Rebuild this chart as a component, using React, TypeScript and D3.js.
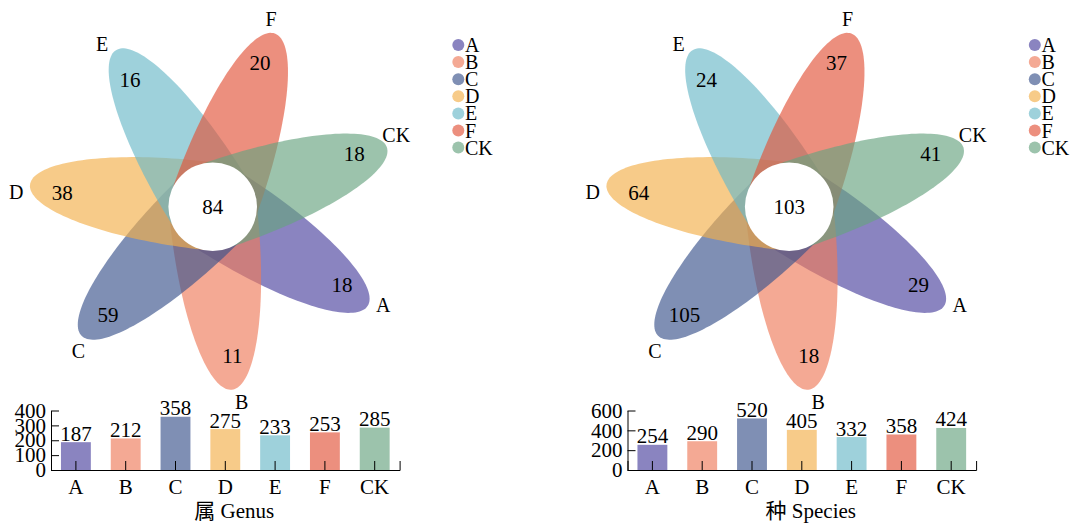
import * as d3 from "d3";
import { useEffect, useRef } from "react";

// groups, in legend / petal order
const categories = ["A", "B", "C", "D", "E", "F", "CK"];
const groupColors = ["#8a84c0", "#f4a994", "#7f8fb4", "#f7cb89", "#9ed1db", "#ec8f7e", "#9cc3ac"];

// genus level
const genusUnique = [18, 11, 59, 38, 16, 20, 18];
const genusCore = 84;
const genusTotals = [187, 212, 358, 275, 233, 253, 285];
const genusTicks = [0, 100, 200, 300, 400];

// species level
const speciesUnique = [29, 18, 105, 64, 24, 37, 41];
const speciesCore = 103;
const speciesTotals = [254, 290, 520, 405, 332, 358, 424];
const speciesTicks = [0, 200, 400, 600];

const FONT = "'Liberation Serif', 'Times New Roman', 'Noto Sans CJK SC', serif";
const ALPHA = 0.65;

// colour that gives `c` when painted with ALPHA over white
function baseColor(c: string) {
    const rgb = d3.rgb(c);
    const f = (v: number) => Math.max(0, Math.min(255, (v - 255 * (1 - ALPHA)) / ALPHA));
    return d3.rgb(f(rgb.r), f(rgb.g), f(rgb.b)).formatHex();
}

// egg shaped petal, pointing along +x, inner end hidden under the core circle
function petalPath() {
    const peak = 10, outer = 174, inner = 48, half = 44;
    const pts: [number, number][] = d3.range(0, 2 * Math.PI, Math.PI / 90).map(t => {
        const c = Math.cos(t);
        return [peak + (c >= 0 ? outer : inner) * c, half * Math.sin(t)];
    });
    return d3.line().curve(d3.curveLinearClosed)(pts)!;
}

function drawPanel(
    root: d3.Selection<SVGGElement, unknown, null, undefined>,
    unique: number[], core: number, totals: number[], ticks: number[], title: string
) {
    const fx = 212.7, fy = 206.7;
    const start = 32.6, step = 360 / categories.length;
    const rad = (a: number) => (a * Math.PI) / 180;
    const petal = petalPath();

    // petals
    const petals = root.append("g").attr("transform", `translate(${fx},${fy})`);
    categories.forEach((c, i) => {
        petals.append("path")
            .attr("d", petal)
            .attr("transform", `rotate(${start + step * i})`)
            .attr("fill", baseColor(groupColors[i]))
            .attr("fill-opacity", ALPHA);
    });

    root.append("circle")
        .attr("cx", fx).attr("cy", fy).attr("r", 44.3)
        .attr("fill", "white");

    const txt = root.append("g")
        .attr("font-family", FONT)
        .attr("font-size", 21)
        .attr("text-anchor", "middle");

    txt.append("text").attr("x", fx).attr("y", fy + 7).text(core);

    categories.forEach((c, i) => {
        const a = rad(start + step * i - 1.5);
        txt.append("text")
            .attr("x", fx + 151 * Math.cos(a))
            .attr("y", fy + 151 * Math.sin(a) + 7)
            .text(unique[i]);
        const b = rad(start + step * i - 2.5);
        txt.append("text")
            .attr("x", fx + 197 * Math.cos(b))
            .attr("y", fy + 197 * Math.sin(b) + 7)
            .attr("font-size", 20)
            .text(c);
    });

    // legend
    const legend = root.append("g").attr("font-family", FONT).attr("font-size", 20);
    categories.forEach((c, i) => {
        const ly = 45 + 17.1 * i;
        legend.append("circle")
            .attr("cx", 458.3).attr("cy", ly).attr("r", 6)
            .attr("fill", groupColors[i]);
        legend.append("text")
            .attr("x", 465).attr("y", ly + 7)
            .text(c);
    });

    // bar chart
    const x = d3.scaleBand()
        .domain(categories)
        .range([51, 399.6])
        .paddingInner(0.4)
        .paddingOuter(0.2);

    const y = d3.scaleLinear()
        .domain([0, d3.max(ticks)!])
        .range([470, 410.5]);

    root.append("g")
        .selectAll("rect")
        .data(totals)
        .enter()
        .append("rect")
        .attr("x", (d, i) => x(categories[i])!)
        .attr("y", d => y(d))
        .attr("width", x.bandwidth())
        .attr("height", d => y(0) - y(d))
        .attr("fill", (d, i) => groupColors[i]);

    root.append("g")
        .attr("font-family", FONT)
        .attr("font-size", 21)
        .attr("text-anchor", "middle")
        .selectAll("text")
        .data(totals)
        .enter()
        .append("text")
        .attr("x", (d, i) => x(categories[i])! + x.bandwidth() / 2)
        .attr("y", d => y(d) - 1.5)
        .text(d => d);

    root.append("g")
        .attr("transform", `translate(0,${y(0)})`)
        .call(d3.axisBottom(x).tickSizeInner(-9).tickSizeOuter(-9).tickPadding(9))
        .attr("font-family", FONT)
        .attr("font-size", 21);

    root.append("g")
        .attr("transform", `translate(51,0)`)
        .call(d3.axisLeft(y).tickValues(ticks).tickSizeInner(-8).tickSizeOuter(0).tickPadding(5))
        .attr("font-family", FONT)
        .attr("font-size", 21);

    root.append("text")
        .attr("x", (51 + 399.6) / 2 + 9)
        .attr("y", 518)
        .attr("text-anchor", "middle")
        .attr("font-family", FONT)
        .attr("font-size", 21)
        .text(title);
}

export default function App() {
    const ref = useRef<SVGSVGElement>(null);

    useEffect(() => {
        const svg = d3.select(ref.current);
        svg.selectAll("*").remove();

        const left = svg.append("g");
        drawPanel(left, genusUnique, genusCore, genusTotals, genusTicks, "属 Genus");

        const right = svg.append("g").attr("transform", "translate(576.5,0)");
        drawPanel(right, speciesUnique, speciesCore, speciesTotals, speciesTicks, "种 Species");
    }, []);

    return (
        <svg
            ref={ref}
            width={1075}
            height={525}
            style={{ position: "absolute", left: 0, top: 0, background: "white" }}
        />
    );
}
